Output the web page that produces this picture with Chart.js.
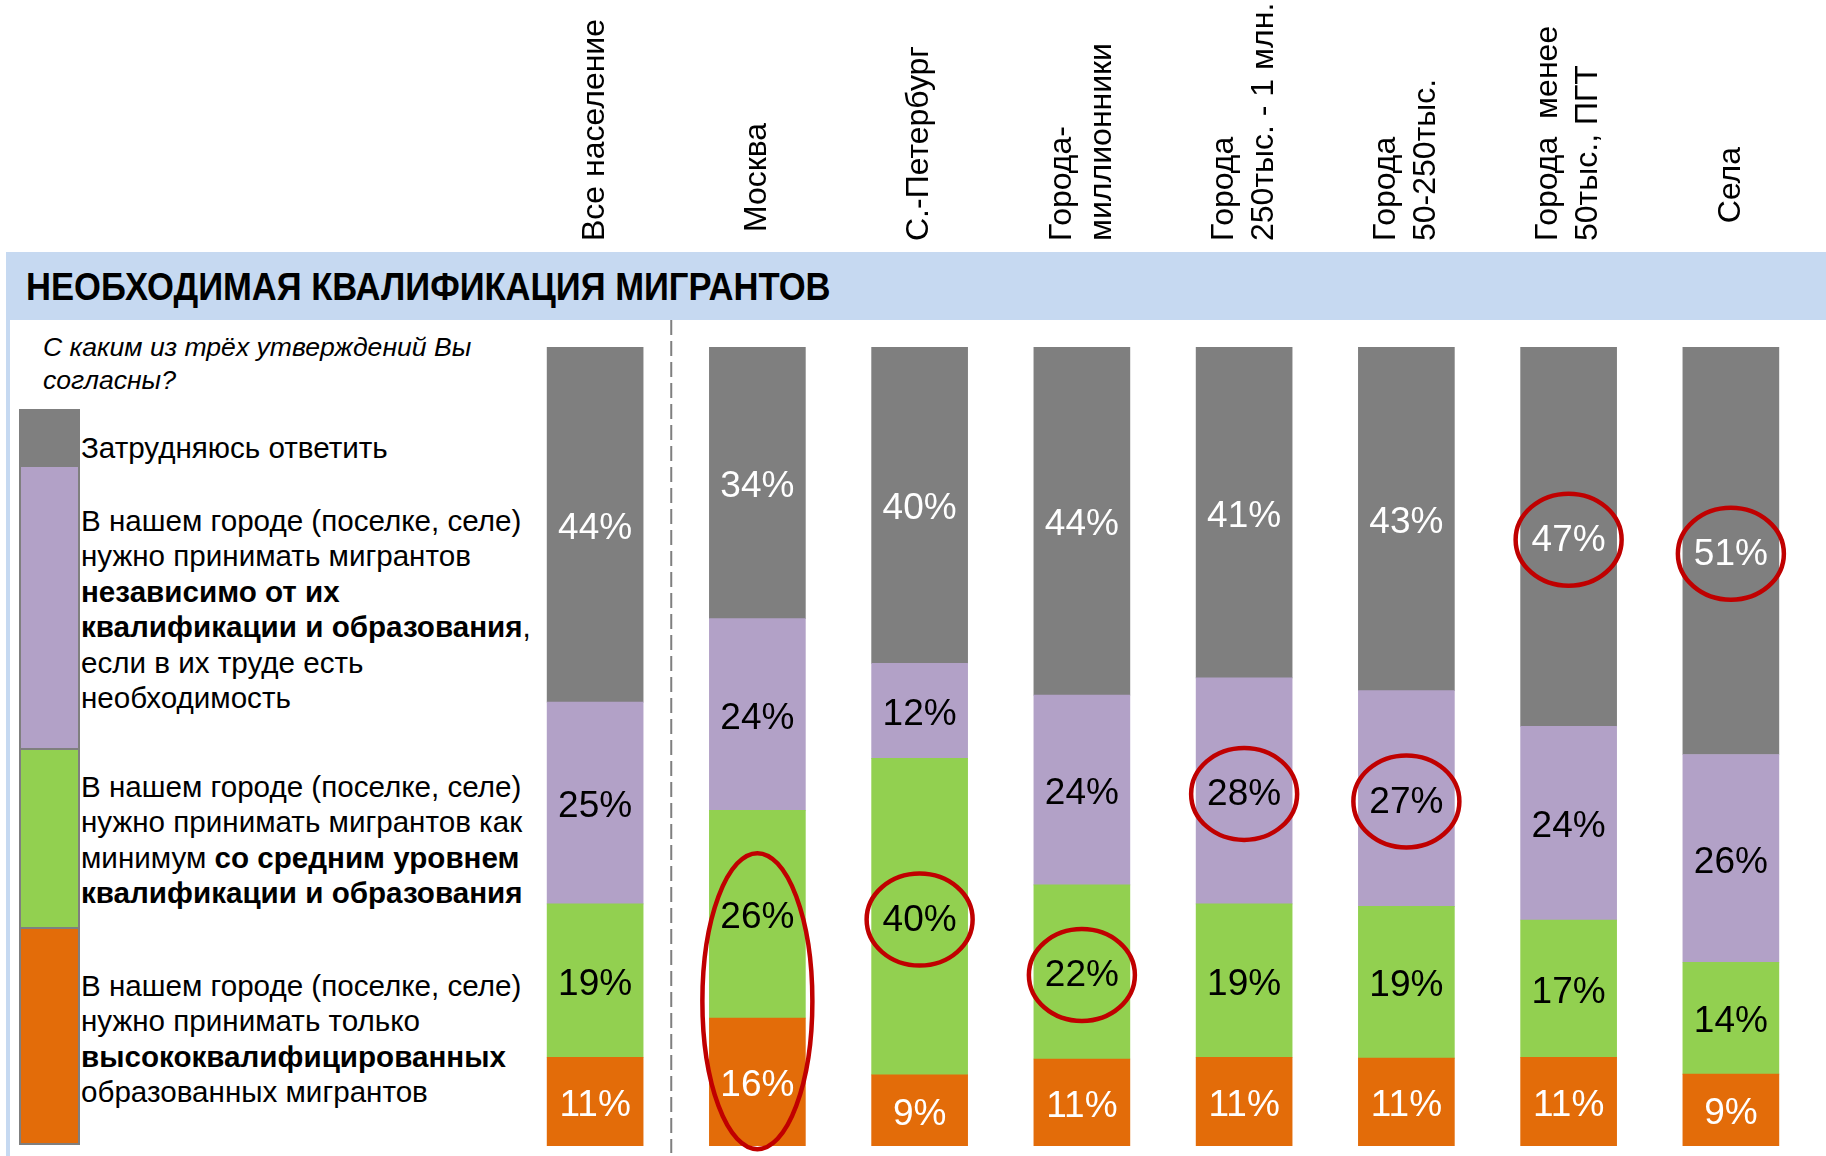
<!DOCTYPE html>
<html lang="ru">
<head>
<meta charset="utf-8">
<title>Необходимая квалификация мигрантов</title>
<script src="https://cdn.jsdelivr.net/npm/chart.js@4.4.1/dist/chart.umd.min.js"></script>
<style>
  html, body { margin: 0; padding: 0; background: #fff; }
  body { width: 1826px; height: 1156px; position: relative; overflow: hidden;
         font-family: "Liberation Sans", Arial, sans-serif; color: #000; }
  #band { position: absolute; left: 6px; top: 252px; width: 1820px; height: 68px; background: #c6d9f1; }
  #strip { position: absolute; left: 6px; top: 320px; width: 4px; height: 836px; background: #c6d9f1; }
  #title { position: absolute; left: 26px; top: 265px; font-weight: bold; font-size: 38px; line-height: 44px;
           transform: scaleX(0.91); transform-origin: left center; white-space: nowrap; }
  #question { position: absolute; left: 43px; top: 331px; font-style: italic; font-size: 26.6px; line-height: 33px; white-space: nowrap; }
  .legend-box { position: absolute; left: 19px; width: 61px; border: 2px solid #7f7f7f; box-sizing: border-box; }
  .legend-text { position: absolute; left: 81px; font-size: 29.6px; line-height: 35.4px; white-space: nowrap; }
  #chart { position: absolute; left: 0; top: 0; }
</style>
</head>
<body>
<div id="band"></div>
<div id="strip"></div>
<div id="title">НЕОБХОДИМАЯ КВАЛИФИКАЦИЯ МИГРАНТОВ</div>
<div id="question">С каким из трёх утверждений Вы<br>согласны?</div>

<div class="legend-box" style="top:409px;height:58px;background:#7f7f7f"></div>
<div class="legend-box" style="top:465px;height:285px;background:#b2a1c7"></div>
<div class="legend-box" style="top:748px;height:181px;background:#92d050"></div>
<div class="legend-box" style="top:927px;height:218px;background:#e36c09"></div>

<div class="legend-text" style="top:430px">Затрудняюсь ответить</div>
<div class="legend-text" style="top:503px">В нашем городе (поселке, селе)<br>нужно принимать мигрантов<br><b>независимо от их<br>квалификации и образования</b>,<br>если в их труде есть<br>необходимость</div>
<div class="legend-text" style="top:769px">В нашем городе (поселке, селе)<br>нужно принимать мигрантов как<br>минимум <b>со средним уровнем<br>квалификации и образования</b></div>
<div class="legend-text" style="top:968px">В нашем городе (поселке, селе)<br>нужно принимать только<br><b>высококвалифицированных</b><br>образованных мигрантов</div>

<canvas id="chart" width="1826" height="1156"></canvas>

<script>
// Категории (подписи сверху, повернутые; текст идет снизу вверх)
const categories = [
    ['Все население'],
    [' Москва'],
    ['С.-Петербург'],
    ['Города-', 'миллионники'],
    ['Города', '250тыс. - 1 млн.'],
    ['Города', '50-250тыс.'],
    ['Города  менее', '50тыс., ПГТ'],
    ['  Села']
];

// Значения, % (снизу вверх)
const highQualified   = [11, 16,  9, 11, 11, 11, 11,  9];
const mediumQualified = [19, 26, 40, 22, 19, 19, 17, 14];
const anyQualified    = [25, 24, 12, 24, 28, 27, 24, 26];
const hardToSay       = [44, 34, 40, 44, 41, 43, 47, 51];

const seriesNames = [
    'Только высококвалифицированных',
    'Как минимум со средним уровнем',
    'Независимо от квалификации',
    'Затрудняюсь ответить'
];

// Обведенные значения: серии и индекс категории
const highlights = [
    { series: [0, 1], index: 1, rx: 55, ry: 148 },
    { series: [1], index: 2, rx: 53, ry: 46 },
    { series: [1], index: 3, rx: 53, ry: 46 },
    { series: [2], index: 4, rx: 53, ry: 46 },
    { series: [2], index: 5, rx: 53, ry: 46 },
    { series: [3], index: 6, rx: 53, ry: 46 },
    { series: [3], index: 7, rx: 53, ry: 46 }
];

const allSeries = [highQualified, mediumQualified, anyQualified, hardToSay];

// Приводим каждый столбец к 100%
function toShares(values) {
    return values.map((v, j) => {
        const total = allSeries.reduce((s, arr) => s + arr[j], 0);
        return v / total * 100;
    });
}

const FONT = '"Liberation Sans", Arial, sans-serif';

// Подписи значений внутри сегментов
const valueLabels = {
    id: 'valueLabels',
    afterDatasetsDraw(chart) {
        const ctx = chart.ctx;
        ctx.save();
        ctx.font = '37px ' + FONT;
        ctx.textAlign = 'center';
        ctx.textBaseline = 'middle';
        chart.data.datasets.forEach((ds, i) => {
            const meta = chart.getDatasetMeta(i);
            ctx.fillStyle = ds.labelColor;
            meta.data.forEach((bar, j) => {
                ctx.fillText(ds.rawValues[j] + '%', bar.x, (bar.y + bar.base) / 2 + 4);
            });
        });
        ctx.restore();
    }
};

// Подписи категорий сверху + пунктир + красные овалы
const decorations = {
    id: 'decorations',
    afterDraw(chart) {
        const ctx = chart.ctx;
        const xScale = chart.scales.x;
        const area = chart.chartArea;

        // повернутые подписи категорий
        ctx.save();
        ctx.font = '32px ' + FONT;
        ctx.fillStyle = '#000';
        ctx.textAlign = 'left';
        ctx.textBaseline = 'middle';
        categories.forEach((lines, i) => {
            const cx = xScale.getPixelForValue(i);
            lines.forEach((line, k) => {
                const lx = cx + (k - (lines.length - 1) / 2) * 40;
                ctx.save();
                ctx.translate(lx, 241);
                ctx.rotate(-Math.PI / 2);
                ctx.fillText(line, 0, 0);
                ctx.restore();
            });
        });
        ctx.restore();

        // пунктирный разделитель после "Все население"
        const sepX = (xScale.getPixelForValue(0) + xScale.getPixelForValue(1)) / 2 - 5;
        ctx.save();
        ctx.strokeStyle = '#7f7f7f';
        ctx.lineWidth = 2;
        ctx.setLineDash([15, 6]);
        ctx.beginPath();
        ctx.moveTo(sepX, area.top - 27);
        ctx.lineTo(sepX, area.bottom + 7);
        ctx.stroke();
        ctx.restore();

        // красные овалы
        ctx.save();
        ctx.strokeStyle = '#c00000';
        ctx.lineWidth = 4.5;
        highlights.forEach(h => {
            let sx = 0, sy = 0;
            h.series.forEach(s => {
                const bar = chart.getDatasetMeta(s).data[h.index];
                sx += bar.x;
                sy += (bar.y + bar.base) / 2;
            });
            sx /= h.series.length;
            sy /= h.series.length;
            ctx.beginPath();
            ctx.ellipse(sx, sy + 3, h.rx, h.ry, 0, 0, Math.PI * 2);
            ctx.stroke();
        });
        ctx.restore();
    }
};

const colors = ['#e36c09', '#92d050', '#b2a1c7', '#7f7f7f'];
const labelColors = ['#ffffff', '#000000', '#000000', '#ffffff'];

const ctx = document.getElementById('chart').getContext('2d');
const chart = new Chart(ctx, {
    type: 'bar',
    data: {
        labels: categories,
        datasets: allSeries.map((values, i) => ({
            label: seriesNames[i],
            data: toShares(values),
            rawValues: values,
            labelColor: labelColors[i],
            backgroundColor: colors[i],
            borderWidth: 0,
            barThickness: 96
        }))
    },
    options: {
        responsive: false,
        animation: false,
        devicePixelRatio: 1,
        layout: {
            padding: { top: 347, bottom: 10, left: 514, right: 14 }
        },
        plugins: {
            legend: { display: false },
            tooltip: { enabled: false }
        },
        scales: {
            x: { stacked: true, display: false },
            y: { stacked: true, display: false, min: 0, max: 100 }
        }
    },
    plugins: [valueLabels, decorations]
});
</script>
</body>
</html>
